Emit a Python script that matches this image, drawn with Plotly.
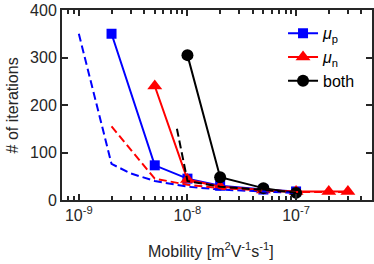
import plotly.graph_objects as go
import numpy as np

# Solid series (with markers)
mup_x = [2e-9, 5e-9, 1e-8, 2e-8, 5e-8, 1e-7]
mup_y = [350, 73, 45, 30, 22, 18]
mun_x = [5e-9, 1e-8, 2e-8, 5e-8, 1e-7, 2e-7, 3e-7]
mun_y = [240, 43, 28, 21, 18, 18, 18]
both_x = [1e-8, 2e-8, 5e-8, 1e-7]
both_y = [305, 48, 25, 15]

# Dashed reference series
mup_d_x = [1e-9, 2e-9, 3e-9, 5e-9, 1e-8, 2e-8, 5e-8, 1e-7]
mup_d_y = [350, 76, 56, 40, 28, 22, 18, 15]
mun_d_x = [2e-9, 5e-9, 1e-8, 2e-8, 5e-8, 1e-7, 2e-7, 3e-7]
mun_d_y = [155, 45, 32, 25, 20, 17, 17, 17]
both_d_x = [8e-9, 1e-8, 2e-8, 5e-8, 1e-7]
both_d_y = [150, 40, 28, 21, 16]

xtick_vals = [1e-9, 1e-8, 1e-7]
xtick_text = ["10<sup>-9</sup>", "10<sup>-8</sup>", "10<sup>-7</sup>"]
ytick_vals = [0, 100, 200, 300, 400]

BLUE = "#0000ff"
RED = "#ff0000"
BLACK = "#000000"
AX = "#262626"
FONT = "Liberation Sans, Arial"
DASH = "8px,4px"

fig = go.Figure()
fig.add_trace(go.Scatter(x=mup_x, y=mup_y, mode="lines+markers", name="<i>μ</i><sub>p</sub>",
                         line=dict(color=BLUE, width=2), marker=dict(symbol="square", size=10, color=BLUE)))
fig.add_trace(go.Scatter(x=mun_x, y=mun_y, mode="lines+markers", name="<i>μ</i><sub>n</sub>",
                         line=dict(color=RED, width=2), marker=dict(symbol="triangle-up", size=13, color=RED)))
fig.add_trace(go.Scatter(x=both_x, y=both_y, mode="lines+markers", name="both",
                         line=dict(color=BLACK, width=2), marker=dict(symbol="circle", size=12, color=BLACK)))
fig.add_trace(go.Scatter(x=mup_d_x, y=mup_d_y, mode="lines", showlegend=False,
                         line=dict(color=BLUE, width=2, dash=DASH)))
fig.add_trace(go.Scatter(x=mun_d_x, y=mun_d_y, mode="lines", showlegend=False,
                         line=dict(color=RED, width=2, dash=DASH)))
fig.add_trace(go.Scatter(x=both_d_x, y=both_d_y, mode="lines", showlegend=False,
                         line=dict(color=BLACK, width=2, dash=DASH)))

minor_x = []
for e in range(-10, -5):
    for m in range(2, 10):
        v = m * 10.0 ** e
        if 7e-10 <= v <= 5e-7:
            minor_x.append(v)

axis_common = dict(showline=True, linecolor=AX, linewidth=2, mirror="allticks", automargin=False,
                   ticks="inside", tickcolor=AX, tickwidth=1.5, showgrid=False, zeroline=False,
                   tickfont=dict(family=FONT, size=16, color=AX))

fig.update_xaxes(type="log", range=[np.log10(7e-10), np.log10(5e-7)], tickvals=xtick_vals,
                 ticktext=xtick_text, ticklen=6,
                 minor=dict(tickvals=minor_x, ticks="inside", ticklen=4, tickcolor=AX, tickwidth=1.5),
                 **axis_common)
fig.update_yaxes(range=[0, 400], tickvals=ytick_vals, ticklen=6, **axis_common)

fig.add_annotation(text="Mobility [m<sup>2</sup>V<sup>-1</sup>s<sup>-1</sup>]", xref="paper", yref="paper",
                   x=0.48, y=-0.2, xanchor="center", yanchor="top", showarrow=False,
                   font=dict(family=FONT, size=16, color=AX))
fig.add_annotation(text="# of iterations", xref="paper", yref="paper", x=-0.16, y=0.5, textangle=-90,
                   xanchor="center", yanchor="middle", showarrow=False,
                   font=dict(family=FONT, size=16, color=AX))

fig.update_layout(width=374, height=264, margin=dict(l=62, r=2, t=10, b=64),
                  paper_bgcolor="white", plot_bgcolor="white",
                  legend=dict(x=0.713, y=0.967, xanchor="left", yanchor="top", bgcolor="rgba(0,0,0,0)",
                              font=dict(family=FONT, size=16, color="#000000"),
                              tracegroupgap=0, itemwidth=30))

fig.write_html("out.html", config={"displayModeBar": False},
               post_script="document.body.style.margin='0';document.body.style.overflow='hidden';")
